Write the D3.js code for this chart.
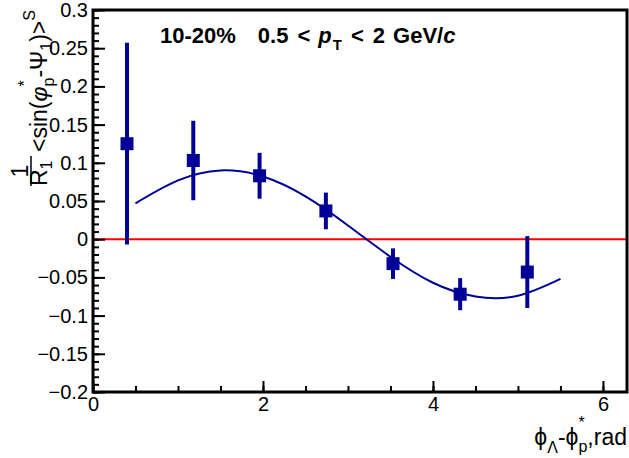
<!DOCTYPE html>
<html><head><meta charset="utf-8">
<script src="https://cdn.jsdelivr.net/npm/d3@7/dist/d3.min.js"></script>
<style>
html,body{margin:0;padding:0;background:#fff;}
svg{display:block;}
text{font-family:"Liberation Sans",Arial,sans-serif;white-space:pre;}
</style></head>
<body>
<svg id="chart" width="629" height="458"></svg>
<script>
// ---- data ----
const xTicks = [0, 2, 4, 6];
const yTicks = [0.3, 0.25, 0.2, 0.15, 0.1, 0.05, 0, -0.05, -0.1, -0.15, -0.2];
const yTickLabels = ["0.3","0.25","0.2","0.15","0.1","0.05","0","\u22120.05","\u22120.1","\u22120.15","\u22120.2"];
const pointX = [0.40, 1.18, 1.96, 2.74, 3.53, 4.32, 5.11];
const pointY = [0.125, 0.103, 0.083, 0.037, -0.032, -0.072, -0.043];
const pointErr = [0.132, 0.052, 0.030, 0.024, 0.020, 0.021, 0.047];
const fitX = [0.5, 1.0, 1.5, 2.0, 2.5, 3.0, 3.5, 4.0, 4.5, 5.0, 5.5];
const fitY = [0.047, 0.077, 0.090, 0.082, 0.056, 0.018, -0.023, -0.057, -0.075, -0.074, -0.052];

const svg = d3.select("#chart");
const L = 93, R = 627, T = 10, B = 392;
const x = d3.scaleLinear().domain([0, 6.283]).range([L, R]);
const y = d3.scaleLinear().domain([-0.2, 0.3]).range([B, T]);
const blue = "#000096";
const FONT = 20;

// zero line
svg.append("line").attr("x1", L).attr("x2", R).attr("y1", y(0)).attr("y2", y(0))
  .attr("stroke", "#ff0000").attr("stroke-width", 2);

// fit curve
const fit = fitX.map((v, i) => [v, fitY[i]]);
svg.append("path").datum(fit)
  .attr("d", d3.line().x(d => x(d[0])).y(d => y(d[1])).curve(d3.curveNatural))
  .attr("fill", "none").attr("stroke", blue).attr("stroke-width", 2);

// error bars and markers
const pts = pointX.map((v, i) => ({x: v, y: pointY[i], e: pointErr[i]}));
svg.append("g").selectAll("line").data(pts).join("line")
  .attr("x1", d => x(d.x)).attr("x2", d => x(d.x))
  .attr("y1", d => y(d.y + d.e)).attr("y2", d => y(d.y - d.e))
  .attr("stroke", blue).attr("stroke-width", 4);
const ms = 13;
svg.append("g").selectAll("rect").data(pts).join("rect")
  .attr("x", d => x(d.x) - ms / 2).attr("y", d => y(d.y) - ms / 2)
  .attr("width", ms).attr("height", ms).attr("fill", blue);

// axes (ROOT style, ticks inside)
const yMinor = d3.range(-0.2, 0.3001, 0.01);
const xMinor = d3.range(0, 6.28, 0.5);
function styleAxis(g) {
  g.select(".domain").remove();
  g.selectAll(".tick line").attr("stroke", "#000").attr("stroke-width", 2);
  g.selectAll("text").attr("font-size", FONT).attr("fill", "#000")
    .attr("font-family", '"Liberation Sans", Arial, sans-serif');
}
svg.append("g").attr("transform", `translate(${L},0)`)
  .call(d3.axisLeft(y).tickValues(yMinor).tickSize(-6).tickFormat(""))
  .call(styleAxis);
svg.append("g").attr("transform", `translate(${L},0)`)
  .call(d3.axisLeft(y).tickValues(yTicks).tickSize(-12).tickPadding(5)
    .tickFormat((d, i) => yTickLabels[i]))
  .call(styleAxis);
svg.append("g").attr("transform", `translate(0,${B})`)
  .call(d3.axisBottom(x).tickValues(xMinor).tickSize(-6).tickFormat(""))
  .call(styleAxis);
svg.append("g").attr("transform", `translate(0,${B})`)
  .call(d3.axisBottom(x).tickValues(xTicks).tickSize(-11).tickPadding(5)
    .tickFormat(d3.format("d")))
  .call(styleAxis);

// frame
svg.append("rect").attr("x", L).attr("y", T).attr("width", R - L).attr("height", B - T)
  .attr("fill", "none").attr("stroke", "#000").attr("stroke-width", 3);

// rich-text helper: runs laid out sequentially, returns total width
function runs(g, items, x0, y0) {
  let cx = x0, lastX = x0;
  items.forEach(it => {
    const t = g.append("text").text(it.t)
      .attr("font-size", it.size || FONT)
      .attr("font-weight", it.bold ? "bold" : "normal")
      .attr("font-style", it.italic ? "italic" : "normal");
    const startX = it.stack ? lastX : cx;
    t.attr("x", startX).attr("y", y0 + (it.dy || 0));
    const w = t.node().getComputedTextLength() + (it.gap || 0);
    if (it.stack) { cx = Math.max(cx, startX + w); }
    else { lastX = startX; cx = startX + w; }
  });
  return cx - x0;
}

// title
const tg = svg.append("g");
runs(tg, [
  {t: "10-20%", bold: true, size: 22, gap: 22},
  {t: "0.5", bold: true, size: 22, gap: 9},
  {t: "<", bold: true, size: 22, gap: 8},
  {t: "p", bold: true, italic: true, size: 22, gap: 1},
  {t: "T", bold: true, size: 15, dy: 7, gap: 9},
  {t: "<", bold: true, size: 22, gap: 9},
  {t: "2", bold: true, size: 22, gap: 8},
  {t: "GeV/", bold: true, size: 22},
  {t: "c", bold: true, italic: true, size: 22}
], 160, 43);

// x title (right aligned)
const xg = svg.append("g");
const xItems = [
  {t: "\u03d5", size: 23},
  {t: "\u039b", size: 16, dy: 8},
  {t: "-\u03d5", size: 23},
  {t: "p", size: 16, dy: 7},
  {t: "*", size: 16, dy: -17, stack: true},
  {t: ",rad", size: 23}
];
const xw = runs(xg, xItems, 0, 445);
xg.attr("transform", `translate(${627 - xw},0)`);

// y title (rotated)
const yg = svg.append("g").attr("transform", "translate(47,152) rotate(-90)");
// fraction 1 / R1
const fr = yg.append("g");
fr.append("text").text("1").attr("x", -19).attr("y", -19).attr("text-anchor", "middle").attr("font-size", 23);
fr.append("line").attr("x1", -34).attr("x2", -4).attr("y1", -16).attr("y2", -16).attr("stroke", "#000").attr("stroke-width", 1.5);
runs(fr, [{t: "R", size: 23}, {t: "1", size: 16, dy: 5}], -34, 0);
runs(yg, [
  {t: "<sin(", size: 23},
  {t: "\u03c6", size: 23, italic: true},
  {t: "p", size: 16, dy: 7},
  {t: "*", size: 16, dy: -17, stack: true},
  {t: "-\u03a8", size: 23},
  {t: "1", size: 16, dy: 5},
  {t: ")>", size: 23},
  {t: "S", size: 16, dy: -12}
], 0, 0);
</script>
</body></html>
